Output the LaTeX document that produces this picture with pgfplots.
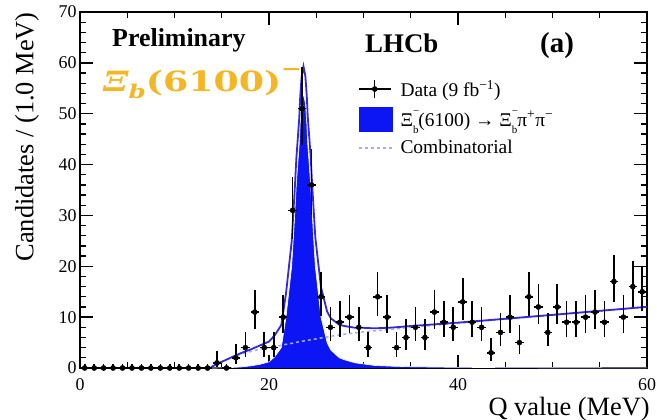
\documentclass[border=0pt]{standalone}
\usepackage{pgfplots}
\pgfplotsset{compat=1.18}
\usepackage{pgfplotstable}
\usepackage{graphicx}
\usepackage{fontspec}
\setmainfont{Liberation Serif}
\newfontfamily\dvs{DejaVu Serif}
\definecolor{sigblue}{RGB}{12,22,245}
\definecolor{fitblue}{RGB}{55,40,215}
\definecolor{combblue}{RGB}{160,175,240}
\definecolor{xiorange}{RGB}{245,182,35}
\newcommand\xib{Ξ\rlap{\raisebox{0.6em}{\fontsize{11}{11}\selectfont −}}\raisebox{-0.35em}{\fontsize{11}{11}\selectfont b}}

\pgfplotstableread{
x y ep em
0.5 0 0.8 0
1.5 0 0.8 0
2.5 0 0.8 0
3.5 0 0.8 0
4.5 0 0.8 0
5.5 0 0.8 0
6.5 0 0.8 0
7.5 0 0.8 0
8.5 0 0.8 0
9.5 0 0.8 0
10.5 0 0.8 0
11.5 0 0.8 0
12.5 0 0.8 0
13.5 0 0.8 0
14.5 1 2.30 0.83
15.5 0 0.8 0
16.5 2 2.64 1.29
17.5 4 3.16 1.91
18.5 11 4.42 3.27
19.5 4 3.16 1.91
20.5 4 3.16 1.91
21.5 10 4.27 3.11
22.5 31 6.60 5.54
23.5 51 8.17 7.12
24.5 36 7.03 5.98
25.5 14 4.84 3.70
26.5 8 3.95 2.77
27.5 9 4.11 2.94
28.5 10 4.27 3.11
29.5 8 3.95 2.77
30.5 4 3.16 1.91
31.5 14 4.84 3.70
32.5 10 4.27 3.11
33.5 4 3.16 1.91
34.5 6 3.58 2.38
35.5 8 3.95 2.77
36.5 6 3.58 2.38
37.5 11 4.42 3.27
38.5 9 4.11 2.94
39.5 8 3.95 2.77
40.5 13 4.71 3.56
41.5 9 4.11 2.94
42.5 8 3.95 2.77
43.5 3 2.92 1.63
44.5 7 3.77 2.58
45.5 10 4.27 3.11
46.5 5 3.38 2.16
47.5 14 4.84 3.70
48.5 12 4.57 3.42
49.5 7 3.77 2.58
50.5 12 4.57 3.42
51.5 9 4.11 2.94
52.5 9 4.11 2.94
53.5 10 4.27 3.11
54.5 11 4.42 3.27
55.5 9 4.11 2.94
56.5 17 5.22 4.09
57.5 10 4.27 3.11
58.5 16 5.10 3.96
59.5 15 4.97 3.83
}\datatab

\pgfplotstableread{
x sig bkg tot
13.8 0 0 0
14 0 0.3 0.3
14.5 0.01 0.8 0.81
15 0.02 1.2 1.22
16 0.08 2.0 2.08
17 0.2 2.7 2.9
18 0.4 3.2 3.6
19 0.7 3.7 4.4
20 1.2 4.0 5.2
20.6 2.2 4.2 6.4
21.3 4 4.45 8.45
21.8 10 4.65 14.65
22.4 20 4.85 24.85
22.75 31 5.0 36.0
22.89 36 5.05 41.05
23.2 44 5.15 49.15
23.3 48 5.2 53.2
23.45 52 5.25 57.25
23.65 54 5.3 59.3
23.85 52 5.35 57.35
24.0 48 5.4 53.4
24.1 44 5.45 49.45
24.41 36 5.55 41.55
24.55 31 5.6 36.6
24.9 20 5.7 25.7
25.5 10 5.9 15.9
26.15 5 6.1 11.1
26.55 3.5 6.25 9.75
27.45 2 6.5 8.5
28 1.6 6.65 8.25
29.15 1 6.9 7.9
30 0.8 7.1 7.9
31.15 0.5 7.3 7.8
33 0.35 7.6 7.95
35 0.25 8.0 8.25
40 0.12 8.8 8.92
45 0.08 9.6 9.68
50 0.05 10.4 10.45
55 0.04 11.2 11.24
60 0.03 12.0 12.03
}\fittab

\begin{document}
\begin{tikzpicture}
\useasboundingbox (-80bp,-52bp) rectangle (577bp,368bp);
\clip (-80bp,-52bp) rectangle (577bp,368bp);
\begin{axis}[
  at={(0,0)}, anchor=south west,
  scale only axis, width=567bp, height=356bp,
  xmin=0, xmax=60, ymin=0, ymax=70,
  xtick={0,20,40,60}, minor x tick num=3,
  ytick={0,10,...,70}, minor y tick num=4,
  tick align=inside,
  major tick length=13bp, minor tick length=6bp,
  tick style={black, line width=1.3bp},
  axis line style={black, line width=1.5bp},
  /pgf/number format/assume math mode=true,
  tick label style={font=\fontsize{18}{18}\selectfont},
  xticklabel style={yshift=-7bp},
  xlabel={Q value (MeV)},
  ylabel={Candidates / (1.0 MeV)},
  label style={font=\fontsize{26.5}{26.5}\selectfont},
  xlabel style={at={(rel axis cs:1,0)}, anchor=north east, inner sep=0pt, yshift=-29bp, xshift=3bp},
  ylabel style={at={(rel axis cs:-0.0935,1)}, anchor=east, inner sep=0pt},
  legend style={at={(rel axis cs:0.49,0.815)}, anchor=north west, draw=none, fill=none,
     font=\fontsize{19.5}{22}\selectfont, row sep=7bp, inner sep=0pt,
     /tikz/every odd column/.append style={column sep=6bp}},
  legend cell align=left,
]
% signal fill
\addplot[draw=none, fill=sigblue, forget plot] table[x=x, y=sig] \fittab \closedcycle;
\addplot[white, line width=0.6bp, forget plot] table[x=x, y=sig] \fittab;
% combinatorial
\addplot[combblue, line width=1.5bp, dash pattern=on 3bp off 3bp, forget plot] table[x=x, y=bkg] \fittab;
% total
\addplot[fitblue, line width=1.8bp, forget plot] table[x=x, y=tot] \fittab;
% data
\addplot[only marks, mark=*, mark size=2.6bp, black, forget plot,
  error bars/.cd, y dir=both, y explicit, x dir=both, x fixed=0.45,
  error bar style={line width=1.6bp, black}, error mark=none]
  table[x=x, y=y, y error plus=ep, y error minus=em] \datatab;

\addlegendimage{legend image code/.code={
  \draw[black, line width=1.3bp] (0bp,0bp) -- (32bp,0bp);
  \draw[black, line width=1.3bp] (16bp,-9bp) -- (16bp,9bp);
  \fill[black] (16bp,0bp) circle (2.6bp);}}
\addlegendentry{Data (9 fb\textsuperscript{−1})}
\addlegendimage{legend image code/.code={
  \fill[sigblue] (0bp,-12bp) rectangle (33bp,12bp);}}
\addlegendentry{\xib(6100) → \xib π\textsuperscript{+}π\textsuperscript{−}}
\addlegendimage{legend image code/.code={
  \draw[combblue, line width=1.5bp, dash pattern=on 3bp off 3bp] (0bp,0bp) -- (33bp,0bp);}}
\addlegendentry{Combinatorial}
\end{axis}
\node[anchor=base west, inner sep=0pt, font=\fontsize{26}{26}\selectfont\bfseries] at (32bp,321bp) {Preliminary};
\node[anchor=base west, inner sep=0pt, font=\fontsize{27}{27}\selectfont\bfseries] at (285bp,315bp) {LHCb};
\node[anchor=base west, inner sep=0pt, font=\fontsize{29}{29}\selectfont\bfseries] at (460bp,315bp) {(a)};
\node[anchor=base west, inner sep=0pt, text=xiorange] at (23bp,276bp)
  {\scalebox{1.3}[1]{\dvs\bfseries\fontsize{28}{28}\selectfont{\itshape Ξ}\raisebox{-0.25em}{\fontsize{19}{19}\selectfont\itshape b}(6100)\raisebox{0.6em}{\fontsize{19}{19}\selectfont −}}};
\end{tikzpicture}
\end{document}
